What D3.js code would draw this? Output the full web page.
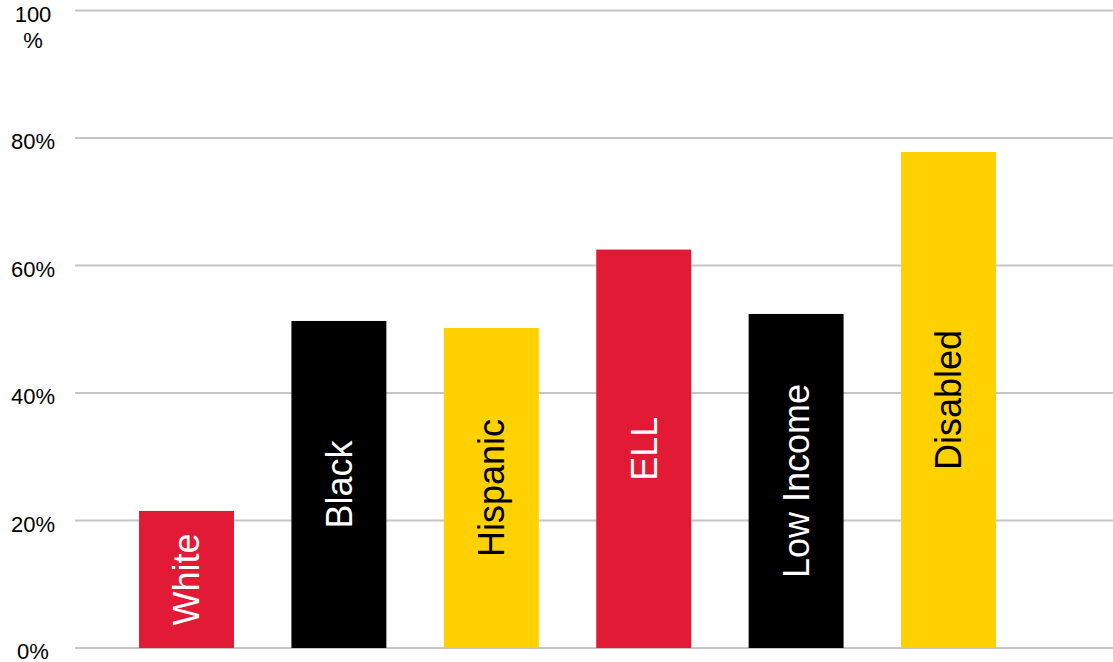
<!DOCTYPE html>
<html>
<head>
<meta charset="utf-8">
<script src="https://cdn.jsdelivr.net/npm/d3@7/dist/d3.min.js"></script>
<style>
  html, body { margin: 0; padding: 0; background: #fff; }
  svg { display: block; font-family: "Liberation Sans", Arial, sans-serif; }
</style>
</head>
<body>
<svg id="chart" width="1113" height="662"></svg>
<script>
// Share of students by group (percent)
const categories = ["White", "Black", "Hispanic", "ELL", "Low Income", "Disabled"];
const values = [21.5, 51.3, 50.2, 62.5, 52.4, 77.8];
const barColors = ["#e31a36", "#000000", "#ffd100", "#e31a36", "#000000", "#ffd100"];
const labelColors = ["#ffffff", "#ffffff", "#000000", "#ffffff", "#ffffff", "#000000"];
const tickValues = [0, 20, 40, 60, 80, 100];
const tickLabels = ["0%", "20%", "40%", "60%", "80%", "100 %"];

const svg = d3.select("#chart");
const W = 1113;

const y = d3.scaleLinear().domain([0, 100]).range([648, 10.5]);
const x = d3.scaleBand()
  .domain(categories)
  .range([110.3, 1024.7])
  .paddingInner(0.377)
  .paddingOuter(0.1885);

// Horizontal gridlines
svg.append("g")
  .selectAll("line")
  .data(tickValues)
  .join("line")
  .attr("x1", 75)
  .attr("x2", W)
  .attr("y1", d => y(d))
  .attr("y2", d => y(d))
  .attr("stroke", "#c6c6c6")
  .attr("stroke-width", 2);

// Y axis labels, centred in a narrow label column
const yl = svg.append("g").attr("font-size", 22).attr("fill", "#000").attr("text-anchor", "middle");
tickValues.forEach((v, i) => {
  const parts = tickLabels[i].split(" ");
  const t = yl.append("text")
    .attr("x", 33)
    .attr("y", y(v) + 11);
  parts.forEach((p, j) => {
    t.append("tspan").attr("x", 33).attr("dy", j === 0 ? 0 : 26).text(p);
  });
});

// Bars
svg.append("g")
  .selectAll("rect")
  .data(categories)
  .join("rect")
  .attr("x", d => x(d))
  .attr("width", x.bandwidth())
  .attr("y", (d, i) => y(values[i]))
  .attr("height", (d, i) => y(0) - y(values[i]))
  .attr("fill", (d, i) => barColors[i]);

// Rotated labels inside bars
svg.append("g")
  .selectAll("text")
  .data(categories)
  .join("text")
  .attr("transform", (d, i) => {
    const cx = x(d) + x.bandwidth() / 2;
    const cy = (y(values[i]) + y(0)) / 2;
    return `translate(${cx},${cy}) rotate(-90)`;
  })
  .attr("text-anchor", "middle")
  .attr("dy", "0.36em")
  .attr("font-size", 36)
  .attr("fill", (d, i) => labelColors[i])
  .text(d => d);
</script>
</body>
</html>
